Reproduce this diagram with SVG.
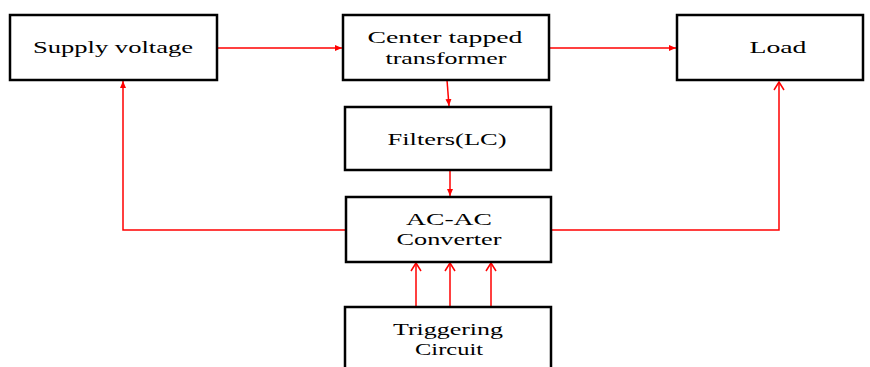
<svg xmlns="http://www.w3.org/2000/svg" width="870" height="367" viewBox="0 0 870 367">
<defs>
<style>
.box{fill:#fff;stroke:#000;stroke-width:2.5}
.t{font-family:"Liberation Serif","Times New Roman",serif;font-size:17px;fill:#000;text-anchor:middle}
.c{fill:none;stroke:#ff0000;stroke-width:1.5}
</style>
<marker id="fa" markerWidth="8" markerHeight="8" refX="7" refY="4" orient="auto" markerUnits="userSpaceOnUse">
<path d="M0,1 L7,4 L0,7 Z" fill="#ff0000"/>
</marker>
<marker id="oa" markerWidth="12" markerHeight="12" refX="10" refY="6" orient="auto" markerUnits="userSpaceOnUse">
<path d="M2,1 L10,6 L2,11" fill="none" stroke="#ff0000" stroke-width="1.5"/>
</marker>
</defs>
<rect width="870" height="367" fill="#fff"/>
<g id="connectors">
<line class="c" x1="217" y1="48" x2="342" y2="48" marker-end="url(#fa)"/>
<line class="c" x1="549" y1="48" x2="676" y2="48" marker-end="url(#fa)"/>
<line class="c" x1="447" y1="80" x2="449" y2="106" marker-end="url(#fa)"/>
<line class="c" x1="450" y1="170" x2="450" y2="196" marker-end="url(#fa)"/>
<polyline class="c" points="346,230 123,230 123,81" marker-end="url(#fa)"/>
<polyline class="c" points="551,230 779,230 779,82" marker-end="url(#oa)"/>
<line class="c" x1="416" y1="307" x2="416" y2="263" marker-end="url(#oa)"/>
<line class="c" x1="450" y1="307" x2="450" y2="263" marker-end="url(#oa)"/>
<line class="c" x1="491" y1="307" x2="491" y2="263" marker-end="url(#oa)"/>
</g>
<g id="supply">
<rect class="box" x="10" y="15" width="207" height="65"/>
<text class="t" x="113" y="53" textLength="160" lengthAdjust="spacingAndGlyphs">Supply voltage</text>
</g>
<g id="transformer">
<rect class="box" x="343" y="15" width="206" height="65"/>
<text class="t" x="445" y="43" textLength="155" lengthAdjust="spacingAndGlyphs">Center tapped</text>
<text class="t" x="446" y="64" textLength="121" lengthAdjust="spacingAndGlyphs">transformer</text>
</g>
<g id="load">
<rect class="box" x="677" y="15" width="186" height="65"/>
<text class="t" x="778" y="53" textLength="57" lengthAdjust="spacingAndGlyphs">Load</text>
</g>
<g id="filters">
<rect class="box" x="345" y="107" width="206" height="63"/>
<text class="t" x="447" y="145" textLength="119" lengthAdjust="spacingAndGlyphs">Filters(LC)</text>
</g>
<g id="converter">
<rect class="box" x="346" y="197" width="205" height="65"/>
<text class="t" x="449" y="225" textLength="86" lengthAdjust="spacingAndGlyphs">AC-AC</text>
<text class="t" x="449" y="245" textLength="105" lengthAdjust="spacingAndGlyphs">Converter</text>
</g>
<g id="triggering">
<rect class="box" x="345" y="307" width="206" height="70"/>
<text class="t" x="448" y="335" textLength="110" lengthAdjust="spacingAndGlyphs">Triggering</text>
<text class="t" x="449" y="355" textLength="68" lengthAdjust="spacingAndGlyphs">Circuit</text>
</g>
</svg>
